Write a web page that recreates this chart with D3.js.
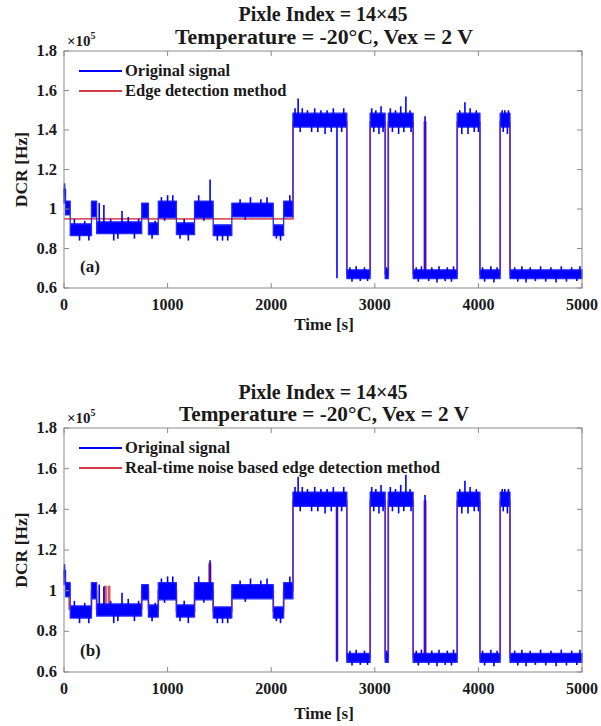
<!DOCTYPE html>
<html><head><meta charset="utf-8">
<script src="https://cdn.jsdelivr.net/npm/d3@7/dist/d3.min.js"></script>
<style>
body{margin:0;background:#fff;}
text{font-family:"Liberation Serif","Times New Roman",serif;font-weight:bold;fill:#1a1a1a;}
</style></head>
<body><svg id="c" width="601" height="726"></svg>
<script>
// ---- data ----
const xTicks = [0, 1000, 2000, 3000, 4000, 5000];
const yTicks = [0.6, 0.8, 1.0, 1.2, 1.4, 1.6, 1.8];
const yTickLabels = ["0.6", "0.8", "1", "1.2", "1.4", "1.6", "1.8"];

// original signal: noise envelope per level segment (time start, end, low, high)
const segStart = [0, 15, 60, 265, 315, 750, 815, 910, 1085, 1260, 1440, 1620, 2020, 2120, 2210, 2730, 2955, 3100, 3130, 3370, 3795, 4015, 4210, 4305];
const segEnd   = [15, 60, 265, 315, 750, 815, 910, 1085, 1260, 1440, 1620, 2020, 2120, 2210, 2730, 2955, 3100, 3130, 3370, 3795, 4015, 4210, 4305, 5000];
const segLo    = [1.03, 0.97, 0.865, 0.96, 0.875, 0.955, 0.87, 0.955, 0.87, 0.955, 0.865, 0.96, 0.865, 0.96, 1.415, 0.648, 1.415, 0.648, 1.415, 0.648, 1.415, 0.648, 1.415, 0.648];
const segHi    = [1.10, 1.04, 0.925, 1.04, 0.935, 1.03, 0.93, 1.04, 0.93, 1.04, 0.92, 1.03, 0.92, 1.04, 1.485, 0.692, 1.485, 0.692, 1.485, 0.692, 1.485, 0.692, 1.485, 0.692];
// spikes of the original signal sticking out of the noise band (time, value)
const spikeT = [5, 100, 150, 200, 240, 340, 385, 450, 480, 520, 560, 620, 680, 720, 850, 880, 940, 970, 1000, 1050, 1120, 1160, 1200, 1300, 1350, 1410, 1480, 1530, 1580, 1700, 1750, 1800, 1900, 1960, 2050, 2090, 2180,
  2230, 2260, 2280, 2300, 2350, 2390, 2420, 2450, 2480, 2520, 2540, 2580, 2600, 2635, 2680, 2700,
  2760, 2780, 2820, 2860, 2900, 2930, 2970, 2990, 3010, 3040, 3060, 3080, 3115,
  3150, 3170, 3200, 3230, 3250, 3280, 3300, 3340, 3350,
  3400, 3420, 3450, 3485, 3520, 3550, 3600, 3620, 3680, 3700, 3740, 3760,
  3820, 3840, 3870, 3900, 3920, 3960, 3980, 4000, 4040, 4060, 4120, 4150, 4180,
  4230, 4240, 4255, 4280, 4290, 4350, 4380, 4420, 4460, 4500, 4550, 4600, 4650, 4700, 4750, 4800, 4850, 4900, 4950, 4980];
const spikeV = [1.13, 0.95, 0.84, 0.94, 0.84, 1.03, 1.02, 0.95, 0.84, 0.85, 0.99, 0.96, 0.85, 0.95, 0.85, 0.94, 1.06, 0.94, 1.07, 1.07, 0.85, 0.95, 0.84, 1.07, 0.94, 1.15, 0.84, 0.84, 0.84, 1.05, 0.945, 1.06, 1.05, 1.06, 0.85, 0.84, 1.07,
  1.51, 1.56, 1.39, 1.51, 1.50, 1.39, 1.51, 1.39, 1.50, 1.38, 1.50, 1.39, 1.51, 0.65, 1.39, 1.51,
  0.705, 0.632, 0.71, 0.635, 0.705, 0.635, 1.51, 1.39, 1.50, 1.38, 1.52, 1.39, 0.705,
  1.51, 1.39, 1.50, 1.38, 1.52, 1.39, 1.57, 1.50, 1.39,
  0.705, 0.632, 0.71, 1.47, 0.635, 0.705, 0.628, 0.71, 0.635, 0.705, 0.632, 0.71,
  1.50, 1.38, 1.54, 1.38, 1.51, 1.39, 1.50, 1.39, 0.705, 0.632, 0.71, 0.628, 0.705,
  1.50, 1.39, 1.50, 1.38, 1.50, 0.705, 0.632, 0.71, 0.628, 0.705, 0.635, 0.71, 0.632, 0.705, 0.628, 0.71, 0.632, 0.705, 0.635, 0.71];

// edge detection method (top panel), step changes
const redTopT = [0, 2210, 2730, 2955, 3100, 3130, 3370, 3478, 3492, 3795, 4015, 4210, 4305, 5000];
const redTopV = [0.95, 1.44, 0.67, 1.44, 0.67, 1.44, 0.67, 1.44, 0.67, 1.44, 0.67, 1.44, 0.67, 0.67];

// real-time noise based edge detection method (bottom panel), step changes
const redBotT = [0, 50, 265, 315, 395, 405, 430, 440, 750, 815, 910, 1085, 1260, 1400, 1415, 1440, 1620, 2020, 2120, 2210, 2630, 2640, 2730, 2955, 3100, 3130, 3370, 3478, 3492, 3795, 4015, 4210, 4305, 5000];
const redBotV = [1.04, 0.91, 1.0, 0.91, 1.02, 0.91, 1.02, 0.91, 1.0, 0.91, 1.0, 0.90, 1.0, 1.13, 1.0, 0.90, 1.0, 0.90, 1.0, 1.44, 0.66, 1.44, 0.67, 1.44, 0.67, 1.44, 0.67, 1.44, 0.67, 1.44, 0.67, 1.44, 0.67, 0.67];

const titleLine1 = "Pixle Index = 14\u00d745";
const titleTop2 = "Temperature =  -20\u00b0C, Vex = 2 V";
const titleBot2 = "Temperature = -20\u00b0C, Vex = 2 V";
const legTop = ["Original signal", "Edge detection method"];
const legBot = ["Original signal", "Real-time noise based edge detection method"];

const svg = d3.select("#c");
const BLUE = "#0000ff", RED = "#d43a48", AX = "#8a8a8a";

function panel(o){
  const x = d3.scaleLinear().domain([0, 5000]).range([64, 582]);
  const y = d3.scaleLinear().domain([0.6, 1.8]).range([o.bottom, o.top]);
  const g = svg.append("g");

  // red detection line (drawn below the signal)
  const rd = o.redT.map((t, i) => ({t, v: o.redV[i]}));
  g.append("path").datum(rd)
    .attr("d", d3.line().x(d => x(d.t)).y(d => y(d.v)).curve(d3.curveStepAfter))
    .attr("fill", "none").attr("stroke", RED).attr("stroke-width", 1.8).attr("stroke-opacity", 0.85);

  // signal envelope
  const pts = [];
  segStart.forEach((s, i) => {
    pts.push({t: s, lo: segLo[i], hi: segHi[i]});
    pts.push({t: segEnd[i], lo: segLo[i], hi: segHi[i]});
  });
  g.append("path").datum(pts)
    .attr("d", d3.area().x(d => x(d.t)).y0(d => y(d.lo)).y1(d => y(d.hi)))
    .attr("fill", BLUE).attr("stroke", "#2a2aff").attr("stroke-width", 1.3).attr("stroke-linejoin", "round");
  // spikes
  spikeT.forEach((t, i) => {
    const k = segStart.findIndex((s, j) => t >= s && t < segEnd[j]);
    const base = (segLo[k] + segHi[k]) / 2;
    g.append("line").attr("x1", x(t)).attr("x2", x(t)).attr("y1", y(base)).attr("y2", y(spikeV[i]))
      .attr("stroke", BLUE).attr("stroke-width", 1.6);
  });

  // box
  g.append("rect").attr("x", 64).attr("y", o.top).attr("width", 518).attr("height", o.bottom - o.top)
    .attr("fill", "none").attr("stroke", AX).attr("stroke-width", 1);
  // ticks (inside)
  const tl = 5;
  xTicks.forEach(t => {
    g.append("line").attr("x1", x(t)).attr("x2", x(t)).attr("y1", o.bottom).attr("y2", o.bottom - tl).attr("stroke", AX);
    g.append("line").attr("x1", x(t)).attr("x2", x(t)).attr("y1", o.top).attr("y2", o.top + tl).attr("stroke", AX);
    g.append("text").attr("x", x(t)).attr("y", o.bottom + 22).attr("text-anchor", "middle")
      .attr("font-size", 16).text(t);
  });
  yTicks.forEach((v, i) => {
    g.append("line").attr("x1", 64).attr("x2", 64 + tl).attr("y1", y(v)).attr("y2", y(v)).attr("stroke", AX);
    g.append("line").attr("x1", 582).attr("x2", 582 - tl).attr("y1", y(v)).attr("y2", y(v)).attr("stroke", AX);
    g.append("text").attr("x", 57).attr("y", y(v) + 5).attr("text-anchor", "end")
      .attr("font-size", 16.5).text(yTickLabels[i]);
  });
  // exponent
  const ex = g.append("text").attr("x", 67).attr("y", o.top - 5).attr("font-size", 15).attr("font-weight", "normal");
  ex.append("tspan").text("\u00d710");
  ex.append("tspan").attr("dy", -7).attr("font-size", 10).text("5");

  // titles
  g.append("text").attr("x", 323).attr("y", o.t1).attr("text-anchor", "middle").attr("font-size", 20)
    .attr("textLength", 169).attr("lengthAdjust", "spacingAndGlyphs").text(titleLine1);
  g.append("text").attr("x", 324).attr("y", o.t2).attr("text-anchor", "middle").attr("font-size", 20)
    .attr("textLength", o.t2w).attr("lengthAdjust", "spacingAndGlyphs").text(o.title2);
  // axis labels
  g.append("text").attr("x", 324).attr("y", o.xl).attr("text-anchor", "middle").attr("font-size", 17).text("Time [s]");
  g.append("text").attr("transform", `translate(27,${(o.top + o.bottom) / 2}) rotate(-90)`)
    .attr("text-anchor", "middle").attr("font-size", 17.5).text("DCR [Hz]");

  // legend
  [[BLUE, o.leg[0]], [RED, o.leg[1]]].forEach((d, i) => {
    const ly = o.top + 20 + i * 20;
    g.append("line").attr("x1", 79).attr("x2", 122).attr("y1", ly).attr("y2", ly).attr("stroke", d[0]).attr("stroke-width", 2);
    g.append("text").attr("x", 125).attr("y", ly + 5).attr("font-size", 16.5).text(d[1]);
  });
  // panel letter
  g.append("text").attr("x", 80).attr("y", o.bottom - 16).attr("font-size", 17).text(o.letter);
}

panel({top: 51, bottom: 288, t1: 21, t2: 44, t2w: 298, xl: 330, redT: redTopT, redV: redTopV, title2: titleTop2, leg: legTop, letter: "(a)"});
panel({top: 428, bottom: 672, t1: 399, t2: 421, t2w: 290, xl: 719, redT: redBotT, redV: redBotV, title2: titleBot2, leg: legBot, letter: "(b)"});
</script></body></html>
